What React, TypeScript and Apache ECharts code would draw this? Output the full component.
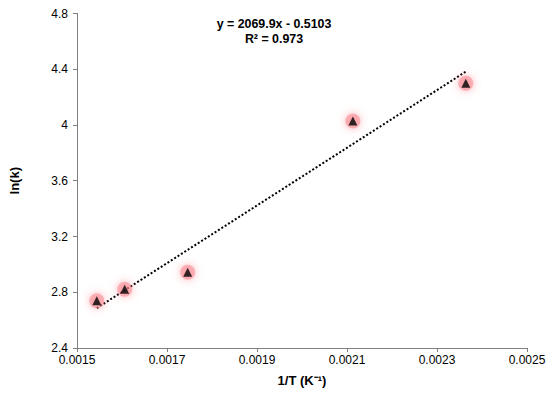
import React, { useEffect, useRef } from "react";
import * as echarts from "echarts";

const invT = [0.001544, 0.001606, 0.001746, 0.002113, 0.002364];
const lnK = [2.739, 2.821, 2.943, 4.029, 4.299];
const trendX = [0.001544, 0.002364];
const trendY = [2.686, 4.383];
const equationLines = ["y = 2069.9x - 0.5103", "R² = 0.973"];

export default function App() {
  const ref = useRef<HTMLDivElement>(null);
  useEffect(() => {
    if (!ref.current) return;
    const chart = echarts.init(ref.current, null, { renderer: "svg" });
    const font = "Liberation Sans, Arial, sans-serif";
    const eqStyle = {
      fontFamily: font,
      fontSize: 12.4,
      fontWeight: "bold",
      fill: "#000",
      align: "center",
      verticalAlign: "middle",
    };
    chart.setOption({
      animation: false,
      backgroundColor: "#fff",
      grid: { left: 70, right: 23, top: 13.5, bottom: 48 },
      xAxis: {
        type: "value",
        min: 0.0015,
        max: 0.0025,
        interval: 0.0002,
        name: "1/T (K⁻¹)",
        nameLocation: "middle",
        nameGap: 26,
        nameTextStyle: { fontFamily: font, fontSize: 13, fontWeight: "bold", color: "#000" },
        axisLine: { show: true, lineStyle: { color: "#808080", width: 1 } },
        axisTick: { show: true, length: 4, lineStyle: { color: "#808080" } },
        axisLabel: { fontFamily: font, fontSize: 12, color: "#000", margin: 6, formatter: (v: number) => v.toFixed(4) },
        splitLine: { show: false },
      },
      yAxis: {
        type: "value",
        min: 2.4,
        max: 4.8,
        interval: 0.4,
        name: "ln(k)",
        nameLocation: "middle",
        nameGap: 56,
        nameTextStyle: { fontFamily: font, fontSize: 13, fontWeight: "bold", color: "#000" },
        axisLine: { show: true, lineStyle: { color: "#808080", width: 1 } },
        axisTick: { show: true, length: 4, lineStyle: { color: "#808080" } },
        axisLabel: {
          fontFamily: font,
          fontSize: 12,
          color: "#000",
          margin: 9,
          formatter: (v: number) => String(parseFloat(v.toFixed(1))),
        },
        splitLine: { show: false },
      },
      graphic: [
        { type: "text", x: 274, y: 24, style: { ...eqStyle, text: equationLines[0] } },
        { type: "text", x: 274, y: 38.5, style: { ...eqStyle, text: equationLines[1] } },
      ],
      series: [
        {
          type: "line",
          data: trendX.map((x, i) => [x, trendY[i]]),
          symbol: "none",
          lineStyle: { color: "#000", width: 2, type: [2, 2] },
          z: 1,
        },
        {
          type: "scatter",
          data: invT.map((x, i) => [x, lnK[i]]),
          symbol: "circle",
          symbolSize: 15,
          itemStyle: {
            color: "rgba(250, 135, 145, 0.7)",
            shadowBlur: 8,
            shadowColor: "rgba(250, 110, 120, 0.9)",
          },
          silent: true,
          z: 2,
        },
        {
          type: "scatter",
          data: invT.map((x, i) => [x, lnK[i]]),
          symbol: "triangle",
          symbolSize: 9,
          itemStyle: { color: "#000" },
          z: 3,
        },
      ],
    });
    return () => chart.dispose();
  }, []);
  return (
    <div
      ref={ref}
      style={{ position: "fixed", left: 0, top: 0, width: 550, height: 396 }}
    />
  );
}
